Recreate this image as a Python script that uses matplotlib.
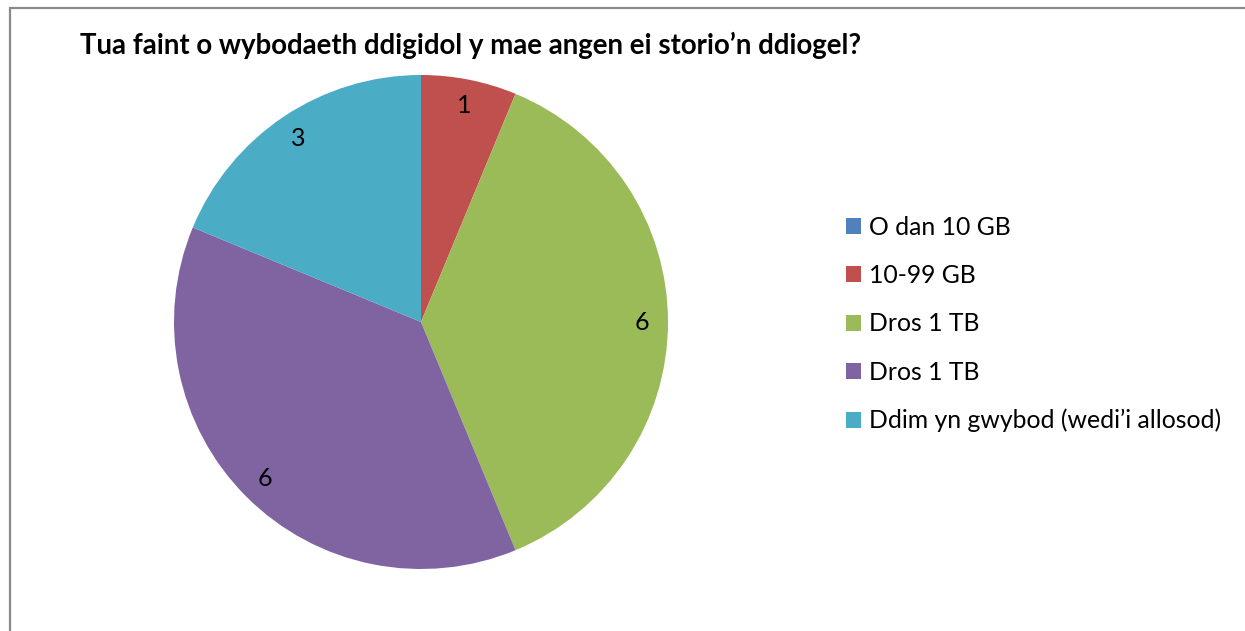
import numpy as np
import matplotlib
matplotlib.use("Agg")
import matplotlib.pyplot as plt
from matplotlib.patches import Rectangle

title = "Tua faint o wybodaeth ddigidol y mae angen ei storio\u2019n ddiogel?"
categories = ["O dan 10 GB", "10-99 GB", "Dros 1 TB", "Dros 1 TB",
              "Ddim yn gwybod (wedi\u2019i allosod)"]
values = [0, 1, 6, 6, 3]
colors = ["#4F81BD", "#C0504D", "#9BBB59", "#8064A2", "#4BACC6"]

W, H = 1245, 631
fig = plt.figure(figsize=(W / 100, H / 100), dpi=100)
fig.patch.set_facecolor("white")

# outer chart frame
fig.patches.append(Rectangle((9.5 / W, -0.05), 1.1, 1 - 7.5 / H + 0.05,
                             transform=fig.transFigure, fill=False,
                             edgecolor="#8a8a8a", lw=1.6, zorder=0))

cx, cy, r = 421, 322, 247
ax = fig.add_axes([(cx - r) / W, 1 - (cy + r) / H, 2 * r / W, 2 * r / H])
wedges, _ = ax.pie(values, colors=colors, startangle=90, counterclock=False,
                   wedgeprops=dict(linewidth=0))
ax.set_xlim(-1, 1)
ax.set_ylim(-1, 1)
ax.set_aspect("auto")
ax.axis("off")

# data labels
total = sum(values)
start = 90.0
for v in values:
    sweep = 360.0 * v / total
    if v > 0:
        mid = np.deg2rad(start - sweep / 2)
        ax.text(0.895 * np.cos(mid), 0.895 * np.sin(mid), str(v), ha="center",
                va="center", fontsize=18, family="Lato", color="black")
    start -= sweep

fig.text(80 / W, 1 - 45 / H, title, fontsize=19.9, fontweight="bold",
         family="Lato", ha="left", va="center")

leg = fig.legend(wedges, categories, loc="upper left",
                 bbox_to_anchor=(836 / W, 1 - 206 / H), frameon=False,
                 prop=dict(family="Lato", size=17.8), handlelength=0.62,
                 handleheight=0.62, handletextpad=0.3, labelspacing=1.02,
                 borderaxespad=0)

fig.savefig("out.png", dpi=100, facecolor="white")
